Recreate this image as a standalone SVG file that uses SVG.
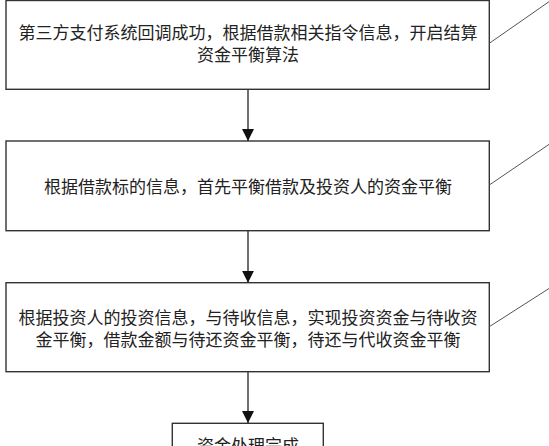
<svg xmlns="http://www.w3.org/2000/svg" width="549" height="446" viewBox="0 0 549 446">
<style>
.box{fill:#fff;stroke:#333;stroke-width:1.4}
.t{font-family:"Noto Sans CJK SC","Noto Sans",sans-serif;font-size:17px;fill:#222;text-anchor:middle}
.conn{stroke:#333;stroke-width:1.4;fill:none}
.diag{stroke:#555;stroke-width:1;fill:none}
</style>
<defs>
<marker id="arr" markerUnits="userSpaceOnUse" markerWidth="12" markerHeight="13" refX="12" refY="6" orient="auto" viewBox="0 0 12 12">
<path d="M0,0 L12,6 L0,12 Z" fill="#111"/>
</marker>
</defs>
<rect width="549" height="446" fill="#fff"/>
<g id="node1">
<rect class="box" x="6" y="0.5" width="483.3" height="88.8"/>
<text class="t" x="248" y="38.5">第三方支付系统回调成功，根据借款相关指令信息，开启结算</text>
<text class="t" x="248" y="61">资金平衡算法</text>
</g>
<g id="node2">
<rect class="box" x="6" y="141" width="483.3" height="89.7"/>
<text class="t" x="248" y="192.7">根据借款标的信息，首先平衡借款及投资人的资金平衡</text>
</g>
<g id="node3">
<rect class="box" x="6" y="282.7" width="483.3" height="89"/>
<text class="t" x="248" y="323.7">根据投资人的投资信息，与待收信息，实现投资资金与待收资</text>
<text class="t" x="248" y="346">金平衡，借款金额与待还资金平衡，待还与代收资金平衡</text>
</g>
<g id="node4">
<rect class="box" x="172.3" y="423.3" width="151" height="30"/>
<text class="t" x="248" y="451.5">资金处理完成</text>
</g>
<g id="connectors">
<line class="conn" x1="248" y1="89.3" x2="248" y2="141" marker-end="url(#arr)"/>
<line class="conn" x1="248" y1="230.7" x2="248" y2="282.7" marker-end="url(#arr)"/>
<line class="conn" x1="248" y1="371.7" x2="248" y2="423" marker-end="url(#arr)"/>
<line class="diag" x1="489.3" y1="43.3" x2="549" y2="1.7"/>
<line class="diag" x1="489.3" y1="185" x2="549" y2="144.4"/>
<line class="diag" x1="489.3" y1="326.7" x2="549" y2="288.5"/>
</g>
</svg>
